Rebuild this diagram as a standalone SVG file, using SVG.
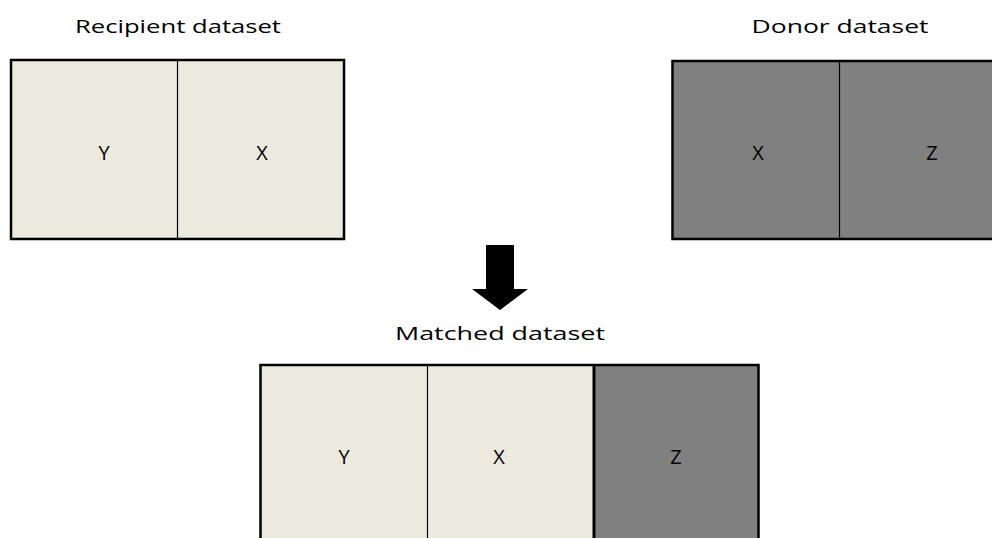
<svg xmlns="http://www.w3.org/2000/svg" width="992" height="538" viewBox="0 0 992 538">
<style>
.title{font-family:"Open Sans","DejaVu Sans",sans-serif;font-size:18.5px;fill:#000;text-anchor:middle}
.lbl{font-family:"Open Sans","DejaVu Sans",sans-serif;font-size:20px;fill:#000;text-anchor:middle;dominant-baseline:central}
.light{fill:#ECE9DF}
.dark{fill:#808080}
.frame{fill:none;stroke:#000;stroke-width:2.5}
.div{stroke:#000;stroke-width:1.2}
.divthick{stroke:#000;stroke-width:3}
</style>
<rect width="992" height="538" fill="#fff"/>
<g id="recipient">
<text class="title" x="178" y="33" textLength="206" lengthAdjust="spacingAndGlyphs">Recipient dataset</text>
<rect class="light" x="11" y="60" width="333" height="179"/>
<line class="div" x1="177.5" y1="60" x2="177.5" y2="239"/>
<rect class="frame" x="11" y="60" width="333" height="179"/>
<text class="lbl" x="104" y="152">Y</text>
<text class="lbl" x="262" y="152">X</text>
</g>
<g id="donor">
<text class="title" x="840" y="33" textLength="177" lengthAdjust="spacingAndGlyphs">Donor dataset</text>
<rect class="dark" x="672" y="61" width="340" height="178"/>
<line class="div" x1="839.5" y1="61" x2="839.5" y2="239"/>
<rect class="frame" x="672.5" y="61" width="340" height="178"/>
<text class="lbl" x="758" y="152">X</text>
<text class="lbl" x="932" y="152">Z</text>
</g>
<g id="connectors">
<polygon points="486,245 514,245 514,289 528,289 500,310 472,289 486,289" fill="#000"/>
</g>
<g id="matched">
<text class="title" x="500" y="340" textLength="210" lengthAdjust="spacingAndGlyphs">Matched dataset</text>
<rect class="light" x="260.5" y="365" width="333" height="190"/>
<rect class="dark" x="594" y="365" width="164.5" height="190"/>
<line class="div" x1="427.5" y1="365" x2="427.5" y2="555"/>
<line class="divthick" x1="594" y1="365" x2="594" y2="555"/>
<rect class="frame" x="260.5" y="365" width="498" height="190"/>
<text class="lbl" x="344" y="456">Y</text>
<text class="lbl" x="499" y="456">X</text>
<text class="lbl" x="676" y="456">Z</text>
</g>
</svg>
